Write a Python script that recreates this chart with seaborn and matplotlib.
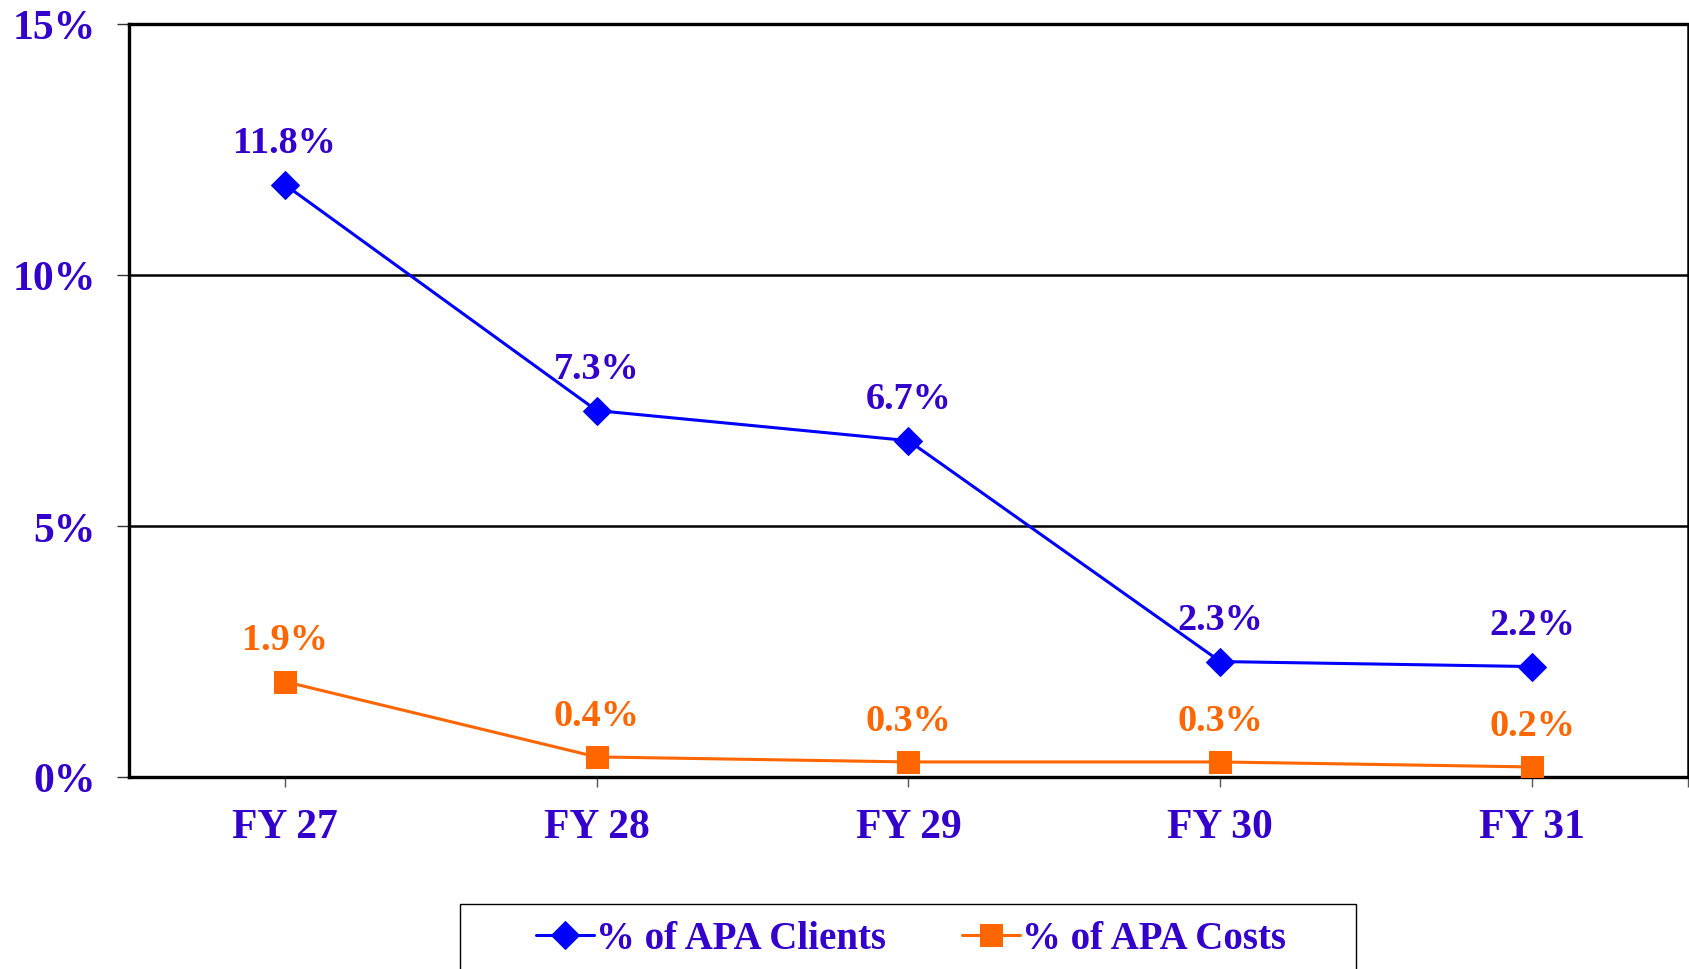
import matplotlib
matplotlib.use("Agg")
import matplotlib.pyplot as plt
import seaborn as sns
import pandas as pd
from matplotlib.patches import Rectangle
from matplotlib.ticker import FixedLocator

categories = ["FY 27", "FY 28", "FY 29", "FY 30", "FY 31"]
clients = [11.8, 7.3, 6.7, 2.3, 2.2]
costs = [1.9, 0.4, 0.3, 0.3, 0.2]
y_ticks = [0, 5, 10, 15]
y_tick_labels = ["0%", "5%", "10%", "15%"]
series_names = ["% of APA Clients", "% of APA Costs"]

sns.set_style("white")
plt.rcParams["font.family"] = ["Liberation Serif", "DejaVu Serif"]
plt.rcParams["font.weight"] = "bold"

TEXT = "#3300CC"
BLUE = "#0000FF"
ORANGE = "#FF6600"

W, H = 1690, 970
fig = plt.figure(figsize=(W / 100, H / 100), dpi=100)
ax = fig.add_axes([129 / W, 1 - 778 / H, (1688 - 129) / W, (778 - 25) / H])

x = list(range(len(categories)))
df1 = pd.DataFrame({"x": x, "y": clients})
df2 = pd.DataFrame({"x": x, "y": costs})

sns.lineplot(data=df1, x="x", y="y", ax=ax, color=BLUE, lw=2.2, marker="D",
             markersize=14, markeredgecolor=BLUE, label=series_names[0], zorder=4)
sns.lineplot(data=df2, x="x", y="y", ax=ax, color=ORANGE, lw=2.2, marker="s",
             markersize=16, markeredgecolor=ORANGE, label=series_names[1], zorder=4)

for xi, v in zip(x, clients):
    ax.annotate(f"{v:.1f}%", (xi, v), xytext=(0, 30), textcoords="offset points",
                ha="center", va="center", fontsize=27.5, fontweight="bold", color=TEXT, zorder=5)
for xi, v in zip(x, costs):
    ax.annotate(f"{v:.1f}%", (xi, v), xytext=(0, 30), textcoords="offset points",
                ha="center", va="center", fontsize=27.5, fontweight="bold", color=ORANGE, zorder=5)

ax.set_xlim(-0.5, len(categories) - 0.5)
ax.set_ylim(0, 15)
ax.set_yticks(y_ticks)
ax.set_yticklabels(y_tick_labels)
ax.set_xticks(x)
ax.set_xticklabels(categories)
ax.xaxis.set_minor_locator(FixedLocator([len(categories) - 0.5]))
ax.set_xlabel("")
ax.set_ylabel("")

for t in ax.get_xticklabels() + ax.get_yticklabels():
    t.set_color(TEXT)
    t.set_fontweight("bold")
    t.set_fontsize(30)

ax.tick_params(axis="y", which="major", direction="out", length=9, width=1,
               color="#333333", pad=15, left=True)
ax.tick_params(axis="x", which="both", direction="out", length=7, width=1,
               color="#555555", pad=15, bottom=True)
ax.tick_params(axis="x", which="minor", length=7)

for yv in [5, 10]:
    ax.axhline(yv, color="black", lw=1.8, zorder=1)

for s in ["left", "bottom", "top"]:
    ax.spines[s].set_linewidth(2.4)
    ax.spines[s].set_color("black")
ax.spines["right"].set_linewidth(1.8)
ax.spines["right"].set_color("black")

ax.get_legend().remove()
handles, labels = ax.get_legend_handles_labels()
leg = fig.legend(handles, labels, loc="center", bbox_to_anchor=(911 / W, 1 - 940 / H),
                 ncol=2, frameon=False, fontsize=28, handlelength=1.5,
                 handletextpad=0.05, columnspacing=1.95)
for t in leg.get_texts():
    t.set_color(TEXT)
    t.set_fontweight("bold")

fig.patches.append(Rectangle((460 / W, 1 - 990 / H), (1356 - 460) / W, (990 - 905) / H,
                             transform=fig.transFigure, fill=False, edgecolor="black",
                             lw=1.0, clip_on=False))

fig.savefig("out.png", dpi=100, facecolor="white")
